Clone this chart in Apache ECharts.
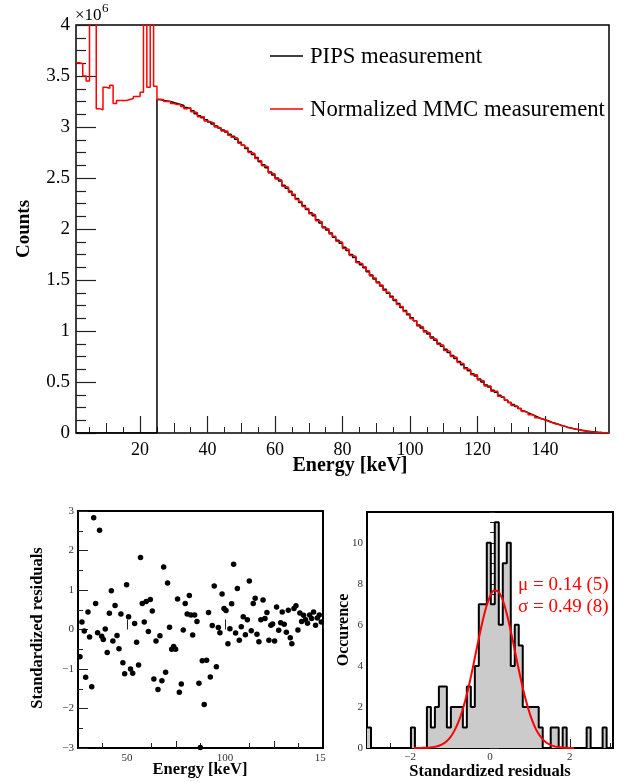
<!DOCTYPE html>
<html>
<head>
<meta charset="utf-8">
<script src="https://cdn.jsdelivr.net/npm/echarts@6/dist/echarts.min.js"></script>
<style>
html, body { margin: 0; padding: 0; background: #fff; }
#main { width: 626px; height: 782px; }
</style>
</head>
<body>
<div id="main"></div>
<script>
// ---- spectrum (counts in units of 10^6, 1 keV bins starting at 1 keV) ----
const specBinStart = 1;
const specBinWidth = 1;
const pipsCounts = [
  0,0,0,0,0,0,0,0,0,0, 0,0,0,0,0,0,0,0,0,0, 0,0,0,0,
  3.27,3.26,3.255,3.25,3.24,3.23,3.22,3.21,3.19,3.18,
  3.16,3.13,3.11,3.09,3.07,3.05,3.03,3.01,2.99,2.97,
  2.95,2.93,2.91,2.88,2.85,2.82,2.79,2.76,2.73,2.70,
  2.66,2.63,2.60,2.56,2.53,2.50,2.47,2.43,2.40,2.37,
  2.33,2.30,2.26,2.23,2.19,2.16,2.13,2.09,2.06,2.02,
  1.99,1.96,1.92,1.89,1.86,1.82,1.79,1.75,1.72,1.68,
  1.65,1.62,1.58,1.55,1.51,1.48,1.44,1.41,1.37,1.34,
  1.30,1.27,1.23,1.20,1.16,1.13,1.10,1.06,1.03,1.00,
  0.97,0.94,0.91,0.88,0.85,0.82,0.79,0.76,0.73,0.70,
  0.67,0.64,0.61,0.58,0.56,0.53,0.50,0.47,0.45,0.42,
  0.40,0.37,0.35,0.32,0.30,0.28,0.26,0.24,0.215,0.20,
  0.185,0.17,0.155,0.14,0.13,0.12,0.105,0.095,0.085,0.075,
  0.065,0.055,0.047,0.04,0.033,0.027,0.021,0.016,0.012,0.009,
  0.006,0.004,0.003,0.002
];
const mmcCounts = [
  3.63,3.62,3.50,3.45,6.5,5.8,3.18,3.17,3.39,3.38,3.41,3.23,
  3.26,3.26,3.26,3.27,3.28,3.30,3.30,3.34,4.9,3.39,5.3,3.40,
  3.27,3.27,3.25,3.25,3.23,3.22,3.22,3.20,3.18,3.19,
  3.15,3.14,3.10,3.10,3.06,3.05,3.04,3.00,2.99,2.96,
  2.96,2.92,2.90,2.89,2.84,2.82,2.80,2.75,2.74,2.69,
  2.67,2.62,2.61,2.55,2.54,2.49,2.48,2.42,2.41,2.36,
  2.34,2.29,2.27,2.22,2.20,2.15,2.14,2.08,2.07,2.01,
  2.00,1.95,1.93,1.88,1.87,1.81,1.80,1.74,1.73,1.67,
  1.66,1.63,1.59,1.54,1.52,1.47,1.45,1.40,1.38,1.33,
  1.31,1.26,1.24,1.19,1.17,1.12,1.10,1.05,1.04,0.99,
  0.98,0.93,0.92,0.87,0.86,0.81,0.80,0.75,0.74,0.69,
  0.68,0.63,0.62,0.57,0.57,0.52,0.51,0.46,0.46,0.41,
  0.41,0.36,0.35,0.32,0.30,0.27,0.26,0.24,0.21,0.20,
  0.18,0.17,0.15,0.14,0.13,0.115,0.105,0.09,0.085,0.07,
  0.065,0.052,0.047,0.038,0.033,0.025,0.02,0.015,0.011,0.008,
  0.006,0.004,0.003,0.002
];

// ---- standardized residuals vs energy ----
const residualEnergy = [
  26.0,27.0,28.2,28.9,30.1,30.9,32.0,33.0,34.0,35.0,
  36.0,37.1,37.9,38.9,39.9,41.0,42.0,42.8,43.9,44.9,
  45.9,46.9,47.9,48.8,49.8,50.8,51.8,52.9,53.9,54.9,
  55.9,56.9,57.8,58.8,59.8,60.9,61.9,62.9,63.7,64.8,
  65.8,66.8,67.8,68.7,69.7,70.7,71.7,72.8,73.8,74.8,
  75.8,76.7,77.7,78.7,79.7,80.7,81.8,82.6,83.5,84.5,
  85.7,86.7,
  87.4,88.4,89.4,90.6,91.6,92.5,93.5,94.5,95.6,96.6,
  97.4,98.5,99.5,100.5,101.5,102.5,103.4,104.4,105.4,106.3,
  107.3,108.3,109.3,110.4,111.4,112.4,113.4,114.4,115.4,116.3,
  117.3,118.3,119.4,120.4,121.4,122.4,123.4,124.3,125.3,126.3,
  127.4,128.4,129.2,130.2,131.3,132.3,133.3,134.1,135.2,136.2,
  137.2,138.2,139.1,140.1,141.1,142.1,143.2,144.2,145.2,146.2,
  147.1,148.1,149.1
];
const residualValue = [
  -0.69,0.19,-0.04,-1.21,0.44,-0.19,-1.45,2.83,0.66,-0.08,
  2.51,-0.17,-0.25,0.01,-0.58,0.41,0.98,-0.29,0.61,-0.15,
  -0.49,0.39,-0.84,-1.12,1.13,0.32,-1.00,-1.11,0.15,-0.32,
  -0.90,1.82,0.66,0.19,0.71,-0.05,0.76,0.47,-1.25,-0.29,
  -1.52,-0.16,-1.30,1.58,-1.08,1.18,0.06,-0.50,-0.43,-0.50,
  0.77,-1.59,-1.38,-0.01,0.66,0.39,0.86,0.37,-0.14,0.37,
  0.20,-1.36,
  -2.99,-0.79,-1.90,-0.78,0.43,-1.20,0.10,1.10,-0.94,0.05,
  -0.08,0.90,0.53,0.48,-0.36,0.02,0.65,1.65,-0.09,1.04,
  -0.27,0.07,0.32,-0.13,0.25,1.23,-0.03,0.66,0.79,-0.12,
  -0.31,0.25,0.75,0.28,0.43,-0.27,0.11,0.14,-0.29,0.57,
  -0.02,0.17,0.44,0.13,-0.07,0.49,-0.21,-0.36,0.53,0.60,
  -0.01,0.42,0.20,0.36,0.25,0.16,0.37,0.28,0.44,0.11,
  0.29,0.37,0.19
];

// ---- residual histogram (bin width 0.1) and gaussian fit ----
const residHistStart = -3.08;
const residHistWidth = 0.1;
const residHistCounts = [
  1,0,0,0,0,0,0,0,0,0,
  0,1,0,0,0,2,1,2,3,3,
  1,2,2,2,1,3,2,4,7,7,
  10,7,11,6,9,10,4,6,5,2,
  2,2,2,1,0,0,1,1,0,1,
  0,0,0,0,0,1,0,0,0,1,
  0
];
const fitX = [
  -1.9,-1.8,-1.7,-1.6,-1.5,-1.4,-1.3,-1.2,-1.1,-1.0,
  -0.9,-0.8,-0.7,-0.6,-0.5,-0.4,-0.3,-0.2,-0.1,0.0,
  0.1,0.2,0.3,0.4,0.5,0.6,0.7,0.8,0.9,1.0,
  1.1,1.2,1.3,1.4,1.5,1.6,1.7,1.8,1.9,2.0,2.1
];
const fitY = [
  0.001,0.003,0.007,0.014,0.028,0.055,0.10,0.18,0.31,0.51,
  0.81,1.22,1.77,2.46,3.28,4.20,5.15,6.05,6.83,7.39,
  7.67,7.64,7.30,6.69,5.88,4.96,4.01,3.11,2.31,1.65,
  1.13,0.74,0.47,0.28,0.16,0.09,0.05,0.025,0.012,0.006,0.003
];

// ---- tick positions ----
const topXLabels = [20, 40, 60, 80, 100, 120, 140];
const topXMidTicks = [10, 30, 50, 70, 90, 110, 130, 150];
const topXMinorTicks = [5, 15, 25, 35, 45, 55, 65, 75, 85, 95, 105, 115, 125, 135, 145, 155];
const resXLabels = [50, 100, 150];
const resXMidTicks = [75, 125];
const resXMinorTicks = [37.5, 62.5, 87.5, 112.5, 137.5];
const histXLabels = [-2, 0, 2];
const histXMinorTicks = [-3, -2.5, -1.5, -1, -0.5, 0.5, 1, 1.5, 2.5, 3];
const histYLabels = [0, 2, 4, 6, 8, 10];
const histYMinorTicks = [0.5, 1, 1.5, 2.5, 3, 3.5, 4.5, 5, 5.5, 6.5, 7, 7.5, 8.5, 9, 9.5, 10.5, 11, 11.5];

const SERIF = "'Liberation Serif', 'Times New Roman', serif";
const minus = v => (v < 0 ? '\u2212' + Math.abs(v) : String(v));

function stepData(start, width, counts) {
  const pts = counts.map((c, i) => [start + i * width, c]);
  pts.push([start + counts.length * width, counts[counts.length - 1]]);
  return pts;
}

function tickAxis(dim, grid, min, max, values, len) {
  return {
    type: 'value', gridIndex: grid, min: min, max: max,
    position: dim === 'x' ? 'bottom' : 'left',
    axisLine: { show: false }, splitLine: { show: false },
    axisLabel: { show: false },
    axisTick: { show: true, inside: true, length: len, customValues: values,
      lineStyle: { color: '#222', width: 1 } }
  };
}

function label(x, y, text, size, opts) {
  opts = opts || {};
  return {
    type: 'text', x: x, y: y, rotation: opts.rot || 0, z: 50,
    style: {
      text: text, fill: opts.color || '#000',
      fontFamily: SERIF, fontSize: size, fontWeight: opts.bold ? 'bold' : 'normal',
      align: opts.align || 'center', verticalAlign: 'middle',
      textAlign: opts.align || 'center', textVerticalAlign: 'middle'
    }
  };
}

const chart = echarts.init(document.getElementById('main'));

const option = {
  animation: false,
  backgroundColor: '#fff',
  grid: [
    { left: 76, top: 25, width: 533, height: 408, show: true, borderColor: '#000', borderWidth: 1.5 },
    { left: 78, top: 511, width: 245, height: 237, show: true, borderColor: '#000', borderWidth: 2 },
    { left: 367, top: 512, width: 246, height: 236, show: true, borderColor: '#000', borderWidth: 2 }
  ],
  xAxis: [
    {
      type: 'value', gridIndex: 0, min: 1, max: 159, position: 'bottom',
      axisLine: { show: false }, splitLine: { show: false },
      axisTick: { show: true, inside: true, length: 17, customValues: topXLabels, lineStyle: { color: '#222', width: 1.2 } },
      axisLabel: { customValues: topXLabels, fontFamily: SERIF, fontSize: 18, color: '#000', margin: 8 }
    },
    {
      type: 'value', gridIndex: 1, min: 25, max: 150, position: 'bottom',
      axisLine: { show: false }, splitLine: { show: false },
      axisTick: { show: true, inside: true, length: 10, customValues: resXLabels, lineStyle: { color: '#222', width: 1 } },
      axisLabel: { customValues: resXLabels, fontFamily: SERIF, fontSize: 11, color: '#333', margin: 5 }
    },
    {
      type: 'value', gridIndex: 2, min: -3.08, max: 3.08, position: 'bottom',
      axisLine: { show: false }, splitLine: { show: false },
      axisTick: { show: true, inside: true, length: 9, customValues: histXLabels, lineStyle: { color: '#222', width: 1 } },
      axisLabel: { customValues: histXLabels, formatter: minus, fontFamily: SERIF, fontSize: 11, color: '#333', margin: 4 }
    },
    tickAxis('x', 0, 1, 159, topXMidTicks, 10),
    tickAxis('x', 0, 1, 159, topXMinorTicks, 6),
    tickAxis('x', 1, 25, 150, resXMidTicks, 7),
    tickAxis('x', 1, 25, 150, resXMinorTicks, 5),
    tickAxis('x', 2, -3.08, 3.08, histXMinorTicks, 5)
  ],
  yAxis: [
    {
      type: 'value', gridIndex: 0, min: 0, max: 4, interval: 0.5,
      axisLine: { show: false }, splitLine: { show: false },
      axisTick: { show: true, inside: true, length: 20, lineStyle: { color: '#222', width: 1.2 } },
      minorTick: { show: true, splitNumber: 4, length: 10, lineStyle: { color: '#222', width: 1.2 } },
      axisLabel: { fontFamily: SERIF, fontSize: 19, color: '#000', margin: 6 }
    },
    {
      type: 'value', gridIndex: 1, min: -3, max: 3, interval: 1,
      axisLine: { show: false }, splitLine: { show: false },
      axisTick: { show: true, inside: true, length: 10, lineStyle: { color: '#222', width: 1 } },
      minorTick: { show: true, splitNumber: 2, length: 5, lineStyle: { color: '#222', width: 1 } },
      axisLabel: { formatter: minus, fontFamily: SERIF, fontSize: 11, color: '#333', margin: 4 }
    },
    {
      type: 'value', gridIndex: 2, min: 0, max: 11.5,
      axisLine: { show: false }, splitLine: { show: false },
      axisTick: { show: true, inside: true, length: 9, customValues: histYLabels, lineStyle: { color: '#222', width: 1 } },
      axisLabel: { customValues: histYLabels, fontFamily: SERIF, fontSize: 11, color: '#333', margin: 4 }
    },
    tickAxis('y', 2, 0, 11.5, histYMinorTicks, 5)
  ],
  series: [
    {
      name: 'PIPS measurement', type: 'line', xAxisIndex: 0, yAxisIndex: 0,
      data: stepData(specBinStart, specBinWidth, pipsCounts),
      step: 'end', symbol: 'none', clip: true,
      lineStyle: { color: '#000', width: 1.5 }, itemStyle: { color: '#000' }
    },
    {
      name: 'Normalized MMC measurement', type: 'line', xAxisIndex: 0, yAxisIndex: 0,
      data: stepData(specBinStart, specBinWidth, mmcCounts),
      step: 'end', symbol: 'none', clip: true,
      lineStyle: { color: '#ff0000', width: 1.5 }, itemStyle: { color: '#ff0000' }
    },
    {
      type: 'scatter', xAxisIndex: 1, yAxisIndex: 1,
      data: residualEnergy.map((e, i) => [e, residualValue[i]]),
      symbol: 'circle', symbolSize: 5.5, itemStyle: { color: '#000', opacity: 1 }
    },
    {
      type: 'line', xAxisIndex: 2, yAxisIndex: 2,
      data: stepData(residHistStart, residHistWidth, residHistCounts),
      step: 'end', symbol: 'none', clip: true,
      lineStyle: { color: '#000', width: 2 },
      areaStyle: { color: '#cbcbcb', opacity: 1 }
    },
    {
      type: 'line', xAxisIndex: 2, yAxisIndex: 2, z: 5,
      data: fitX.map((x, i) => [x, fitY[i]]),
      smooth: 0.3, symbol: 'none',
      lineStyle: { color: '#ff0000', width: 2 }
    }
  ],
  graphic: [
    label(75, 16, '\u00d710', 17, { align: 'left' }),
    label(102, 9, '6', 13, { align: 'left' }),
    label(24, 229, 'Counts', 19, { bold: true, rot: Math.PI / 2 }),
    label(350, 466, 'Energy [keV]', 20, { bold: true }),
    { type: 'line', z: 50, shape: { x1: 270, y1: 56, x2: 303, y2: 56 }, style: { stroke: '#000', lineWidth: 1.5 } },
    label(310, 57, 'PIPS measurement', 22.7, { align: 'left' }),
    { type: 'line', z: 50, shape: { x1: 270, y1: 109, x2: 303, y2: 109 }, style: { stroke: '#ff0000', lineWidth: 1.5 } },
    label(310, 110, 'Normalized MMC measurement', 22.7, { align: 'left' }),
    label(38, 628, 'Standardized residuals', 16.5, { bold: true, rot: Math.PI / 2 }),
    label(200, 770, 'Energy [keV]', 16.5, { bold: true }),
    { type: 'rect', z: 100, shape: { x: 326, y: 749, width: 20, height: 20 }, style: { fill: '#fff' } },
    label(344, 630, 'Occurence', 16, { bold: true, rot: Math.PI / 2 }),
    label(490, 772, 'Standardized residuals', 16.5, { bold: true }),
    label(518, 585, '\u03bc = 0.14 (5)', 19, { align: 'left', color: '#ff0000' }),
    label(518, 607, '\u03c3 = 0.49 (8)', 19, { align: 'left', color: '#ff0000' })
  ]
};

chart.setOption(option);
</script>
</body>
</html>
